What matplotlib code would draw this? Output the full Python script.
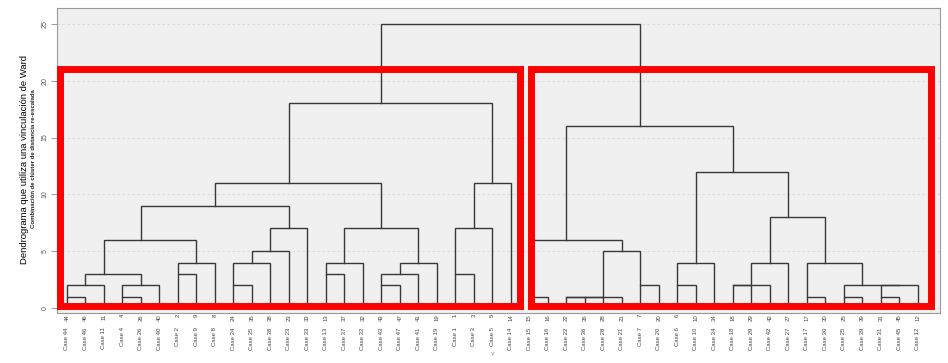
import numpy as np
import matplotlib
matplotlib.use('Agg')
import matplotlib.pyplot as plt
from matplotlib.patches import Rectangle

# leaf order as read left to right
cases = [44, 46, 11, 4, 26, 40, 2, 9, 8, 24, 35, 38, 23, 33, 13, 37, 32, 43, 47, 41,
         19, 1, 3, 5, 14, 15, 16, 22, 36, 28, 21, 7, 20, 6, 10, 34, 18, 29, 42, 27,
         17, 30, 25, 39, 31, 45, 12]

# merges: child ids are leaf positions (0-46) or earlier clusters (47 + row)
left_child = [0, 47, 3, 49, 48, 6, 52, 51, 9, 55, 56, 57, 54, 14, 60, 17, 62, 63,
              61, 59, 21, 67, 68, 66, 25, 27, 72, 73, 31, 74, 71, 33, 78, 36, 80,
              81, 40, 42, 44, 85, 84, 83, 82, 79, 77, 70]
right_child = [1, 2, 4, 5, 50, 7, 8, 53, 10, 11, 12, 13, 58, 15, 16, 18, 19, 20,
               64, 65, 22, 23, 24, 69, 26, 28, 29, 30, 32, 75, 76, 34, 35, 37, 38,
               39, 41, 43, 45, 46, 86, 87, 88, 89, 90, 91]
heights = [1, 2, 1, 2, 3, 3, 4, 6, 2, 4, 5, 7, 9, 3, 4, 2, 3, 4,
           7, 11, 3, 7, 11, 18, 1, 1, 1, 1, 2, 5, 6, 2, 4, 2, 2,
           4, 1, 1, 1, 2, 2, 4, 8, 12, 16, 25]

yticks = [0, 5, 10, 15, 20, 25]
title = 'Dendrograma que utiliza una vinculación de Ward'
subtitle = 'Combinación de clúster de distancia re-escalada'

plt.rcParams['font.family'] = ['Liberation Sans', 'DejaVu Sans']

fig = plt.figure(figsize=(9.48, 3.63), dpi=100)
ax = fig.add_axes([57 / 948, 1 - 312.5 / 363, 883 / 948, 304.5 / 363])
ax.set_facecolor('#f0f0f0')

n = len(cases)
pos = {i: i for i in range(n)}
hgt = {i: 0 for i in range(n)}
for k, (a, b, h) in enumerate(zip(left_child, right_child, heights)):
    xa, xb = pos[a], pos[b]
    ax.plot([xa, xa, xb, xb], [hgt[a], h, h, hgt[b]], color='#383838', lw=1.0,
            solid_joinstyle='miter', zorder=3)
    pos[n + k] = (xa + xb) // 2
    hgt[n + k] = h

ax.set_xlim(-0.54, 47.19)
ax.set_ylim(-0.4, 26.4)

ax.set_yticks(yticks)
ax.set_yticklabels([str(v) for v in yticks], rotation=90, va='center',
                   fontsize=5, color='#555555')
ax.tick_params(axis='y', length=4, width=0.6, color='#888888', pad=2)
ax.yaxis.grid(True, linestyle=(0, (3, 3)), color='#d6d6d6', lw=0.6)
ax.set_axisbelow(True)

ax.set_xticks(range(n))
ax.set_xticklabels([str(c) for c in cases], rotation=90, fontsize=4.3,
                   color='#444444', va='top')
ax.tick_params(axis='x', length=0, pad=1)
for i, c in enumerate(cases):
    ax.text(i, -1.7, f'Case {c}', rotation=90, ha='center', va='top',
            fontsize=4.3, color='#444444', clip_on=False)
ax.text(23, -4.1, 'Y', ha='center', va='center', fontsize=4, color='#777777',
        clip_on=False)

for s in ax.spines.values():
    s.set_color('#9a9a9a')
    s.set_linewidth(0.8)

fig.text(25 / 948, 1 - 159 / 363, title, rotation=90, ha='center', va='center',
         fontsize=6.8, color='#000000')
fig.text(33.5 / 948, 1 - 159 / 363, subtitle, rotation=90, ha='center', va='center',
         fontsize=4.3, color='#222222', fontweight='bold')

# red highlight boxes
for x0, x1 in [(-0.38, 24.5), (25.1, 46.7)]:
    ax.add_patch(Rectangle((x0, 0.15), x1 - x0, 21 - 0.15, fill=False,
                           edgecolor='#ff0000', lw=5, zorder=5, clip_on=False,
                           joinstyle='miter'))

fig.savefig('out.png', dpi=100)
